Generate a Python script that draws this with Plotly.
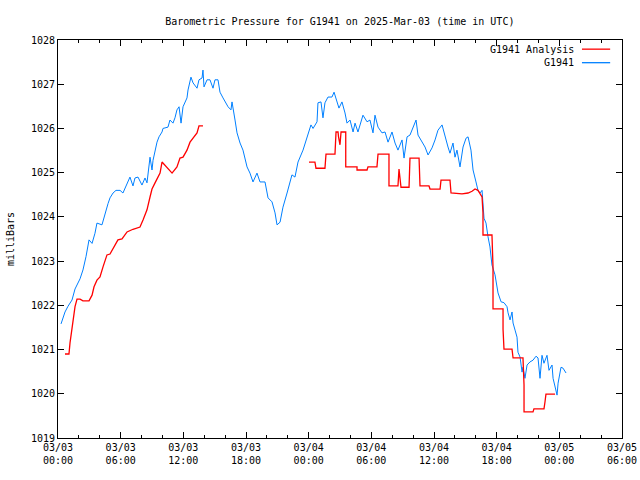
import pandas as pd
import plotly.graph_objects as go

START = pd.Timestamp("2025-03-03 00:00")

# Station observations: hours since start, pressure (mb)
obs_hours = [0.29, 0.67, 0.96, 1.34, 1.63, 1.82, 2.11, 2.39, 2.68, 2.97, 3.26, 3.54, 3.73, 4.21, 4.5, 4.79,
             4.98, 5.27, 5.55, 5.94, 6.22, 6.42, 6.7, 6.89, 7.18, 7.37, 7.66, 8.04, 8.33, 8.52, 8.81, 9.0,
             9.1, 9.29, 9.48, 9.67, 9.96, 10.05, 10.53, 10.72, 11.01, 11.2, 11.39, 11.59, 11.78, 11.97, 12.35,
             12.45, 12.73, 12.93, 13.31, 13.5, 13.79, 13.88, 13.98, 14.27, 14.55, 14.84, 15.03, 15.32, 15.51,
             15.8, 16.28, 16.56, 16.66, 16.95, 17.14, 17.43, 17.71, 18.1, 18.38, 18.67, 19.05, 19.34, 19.82,
             20.11, 20.49, 20.78, 20.97, 21.26, 21.54, 21.93, 22.4, 22.69, 22.98, 23.46, 23.84, 24.22, 24.42,
             24.8, 24.89, 25.18, 25.37, 25.56, 25.85, 26.23, 26.43, 26.71, 26.9, 27.19, 27.48, 27.67, 27.96,
             28.25, 28.44, 28.72, 29.11, 29.2, 29.59, 29.87, 30.16, 30.35, 30.64, 31.02, 31.31, 31.6, 31.98,
             32.27, 32.55, 32.94, 33.13, 33.42, 33.7, 33.99, 34.28, 34.47, 34.85, 35.14, 35.43, 35.81, 36.1,
             36.38, 36.77, 37.05, 37.34, 37.53, 37.82, 38.01, 38.2, 38.49, 38.78, 39.07, 39.26, 39.54, 39.74,
             40.02, 40.21, 40.41, 40.6, 40.79, 40.98, 41.17, 41.36, 41.55, 41.84, 42.13, 42.42, 42.7, 42.99,
             43.09, 43.28, 43.47, 43.57, 43.76, 43.95, 44.04, 44.24, 44.43, 44.52, 44.71, 44.91, 45.19, 45.48,
             45.77, 45.96, 46.15, 46.34, 46.53, 46.82, 47.01, 47.3, 47.4, 47.68, 47.78, 47.88, 48.16, 48.35,
             48.64]
obs_mb = [1021.58, 1021.85, 1021.98, 1022.12, 1022.37, 1022.46, 1022.6, 1022.8, 1023.1, 1023.48, 1023.4,
          1023.63, 1023.86, 1023.82, 1024.09, 1024.3, 1024.43, 1024.54, 1024.6, 1024.6, 1024.54, 1024.65,
          1024.79, 1024.9, 1024.7, 1024.88, 1024.9, 1024.72, 1024.88, 1024.77, 1025.35, 1025.06, 1025.28,
          1025.51, 1025.69, 1025.81, 1025.92, 1026.0, 1026.03, 1026.19, 1026.12, 1026.24, 1026.42, 1026.49,
          1026.12, 1026.49, 1026.69, 1026.87, 1027.16, 1027.03, 1026.91, 1027.1, 1027.14, 1027.32, 1026.94,
          1027.1, 1027.1, 1026.91, 1027.1, 1027.1, 1026.82, 1026.69, 1026.49, 1026.42, 1026.6, 1026.19,
          1025.9, 1025.67, 1025.51, 1025.13, 1024.99, 1024.79, 1024.99, 1024.79, 1024.79, 1024.43, 1024.34,
          1024.09, 1023.82, 1023.88, 1024.22, 1024.54, 1024.95, 1024.9, 1025.24, 1025.51, 1025.78, 1026.08,
          1026.0, 1026.15, 1026.58, 1026.6, 1026.24, 1026.58, 1026.71, 1026.71, 1026.82, 1026.58, 1026.46,
          1026.6, 1026.35, 1026.12, 1026.19, 1025.92, 1026.12, 1025.92, 1026.24, 1026.3, 1026.15, 1026.19,
          1025.9, 1026.3, 1026.03, 1025.9, 1025.92, 1025.69, 1025.92, 1025.67, 1025.51, 1025.74, 1025.33,
          1025.81, 1025.85, 1026.03, 1026.19, 1025.85, 1025.69, 1025.58, 1025.4, 1025.56, 1025.74, 1025.96,
          1026.08, 1025.81, 1025.58, 1025.44, 1025.67, 1025.35, 1025.51, 1025.13, 1025.58, 1025.78, 1025.81,
          1025.51, 1025.06, 1024.79, 1024.6, 1024.54, 1024.6, 1023.97, 1023.86, 1023.55, 1023.32, 1022.91,
          1022.69, 1022.28, 1022.08, 1022.06, 1021.97, 1021.83, 1021.67, 1021.85, 1021.6, 1021.44, 1021.28,
          1020.94, 1020.83, 1020.49, 1020.6, 1020.35, 1020.65, 1020.72, 1020.76, 1020.85, 1020.81, 1020.35,
          1020.87, 1020.69, 1020.87, 1020.53, 1020.65, 1020.35, 1020.08, 1019.97, 1020.24, 1020.6, 1020.58,
          1020.47]

# Analysis series: hours since start, pressure (mb); None marks the data gap
ana_hours = [0.67, 1.05, 1.15, 1.34, 1.44, 1.63, 1.82, 2.11, 2.39, 2.97, 3.26, 3.45, 3.73, 4.02, 4.31, 4.69,
             4.98, 5.27, 5.74, 6.13, 6.61, 7.18, 7.85, 8.14, 8.52, 8.81, 9.0, 9.29, 9.57, 9.77, 9.96, 10.25,
             10.53, 10.92, 11.39, 11.68, 11.97, 12.35, 12.64, 12.93, 13.31, 13.5, 13.88,
             18.0,
             24.03, 24.6, 24.7, 25.56, 25.66, 26.52, 26.62, 26.81, 26.86, 27.0, 27.1, 27.29, 27.55, 27.55,
             28.63, 28.63, 29.59, 29.68, 30.54, 30.64, 31.69, 31.69, 32.55, 32.65, 32.75, 32.84, 33.61, 33.7,
             34.57, 34.66, 35.52, 35.62, 36.58, 36.67, 37.53, 37.63, 38.68, 39.26, 39.64, 39.93, 40.21, 40.6,
             40.69, 40.69, 41.55, 41.65, 41.65, 42.61, 42.61, 42.7, 43.47, 43.57, 44.52, 44.62, 44.62, 45.48,
             45.57, 46.53, 46.63, 46.72, 47.59]
ana_mb = [1020.9, 1020.9, 1021.15, 1021.44, 1021.67, 1021.97, 1022.14, 1022.14, 1022.1, 1022.1, 1022.23,
          1022.42, 1022.57, 1022.64, 1022.87, 1023.14, 1023.16, 1023.29, 1023.48, 1023.5, 1023.66, 1023.72,
          1023.77, 1023.93, 1024.16, 1024.45, 1024.63, 1024.77, 1024.9, 1024.99, 1025.24, 1025.17, 1025.08,
          1024.99, 1025.13, 1025.33, 1025.35, 1025.51, 1025.69, 1025.78, 1025.9, 1026.06, 1026.06,
          None,
          1025.24, 1025.24, 1025.1, 1025.1, 1025.42, 1025.42, 1025.92, 1025.92, 1025.81, 1025.63, 1025.92,
          1025.92, 1025.92, 1025.13, 1025.13, 1025.06, 1025.06, 1025.13, 1025.13, 1025.42, 1025.42, 1024.7,
          1024.7, 1025.08, 1024.9, 1024.67, 1024.67, 1025.33, 1025.33, 1024.7, 1024.7, 1024.63, 1024.63,
          1024.83, 1024.83, 1024.54, 1024.52, 1024.54, 1024.58, 1024.63, 1024.6, 1024.45, 1024.09, 1023.59,
          1023.59, 1022.87, 1021.92, 1021.92, 1021.46, 1021.01, 1021.01, 1020.81, 1020.81, 1020.2, 1019.59,
          1019.59, 1019.66, 1019.66, 1019.82, 1019.99, 1019.99]

y_ticks = [1019, 1020, 1021, 1022, 1023, 1024, 1025, 1026, 1027, 1028]
x_tick_hours = [0, 6, 12, 18, 24, 30, 36, 42, 48, 54]

def to_time(hours):
    return [START + pd.Timedelta(hours=h) for h in hours]

obs_t = to_time(obs_hours)
ana_t = to_time(ana_hours)
x_ticks = to_time(x_tick_hours)
x_labels = [t.strftime("%m/%d<br>%H:%M") for t in x_ticks]

RED = "#ff0000"
BLUE = "#0080ff"
FONT = "DejaVu Sans Mono"

fig = go.Figure()
fig.add_trace(go.Scatter(x=obs_t, y=obs_mb, mode="lines", name="G1941",
                         line=dict(color=BLUE, width=1), showlegend=False))
fig.add_trace(go.Scatter(x=ana_t, y=ana_mb, mode="lines", name="G1941 Analysis",
                         line=dict(color=RED, width=1.3), connectgaps=False, showlegend=False))

axis_common = dict(showline=True, linecolor="black", linewidth=1, mirror="allticks",
                   ticks="inside", ticklen=6, tickcolor="black", showgrid=False, zeroline=False,
                   automargin=False,
                   tickfont=dict(family=FONT, size=10, color="black"))

fig.update_xaxes(range=[x_ticks[0], x_ticks[-1]], tickvals=x_ticks, ticktext=x_labels,
                 minor=dict(ticks="inside", ticklen=3, dtick=2 * 3600 * 1000, tickcolor="black"),
                 **axis_common)
fig.update_yaxes(range=[1019, 1028], tickvals=y_ticks, ticktext=[str(v) for v in y_ticks],
                 title=dict(text="milliBars", font=dict(family=FONT, size=10, color="black"), standoff=14),
                 **axis_common)

# legend (gnuplot style: text right-aligned, sample line on the right)
legend_items = [("G1941 Analysis", RED), ("G1941", BLUE)]
for i, (label, color) in enumerate(legend_items):
    yy = 0.977 - i * 0.034
    fig.add_annotation(x=0.918, y=yy, xref="paper", yref="paper", text=label, showarrow=False,
                       xanchor="right", yanchor="middle",
                       font=dict(family=FONT, size=10, color="black"))
    fig.add_shape(type="line", xref="paper", yref="paper", x0=0.929, x1=0.979, y0=yy, y1=yy,
                  line=dict(color=color, width=1.3))

fig.update_layout(
    width=640, height=480,
    margin=dict(l=58, r=18, t=40, b=42),
    paper_bgcolor="white", plot_bgcolor="white",
    title=dict(text="Barometric Pressure for G1941 on 2025-Mar-03 (time in UTC)",
               x=0.531, xanchor="center", y=0.956, yanchor="middle",
               font=dict(family=FONT, size=10, color="black")),
)

fig.write_html("out.html", config={"displayModeBar": False},
               post_script="document.body.style.margin='0';document.body.style.overflow='hidden';")
